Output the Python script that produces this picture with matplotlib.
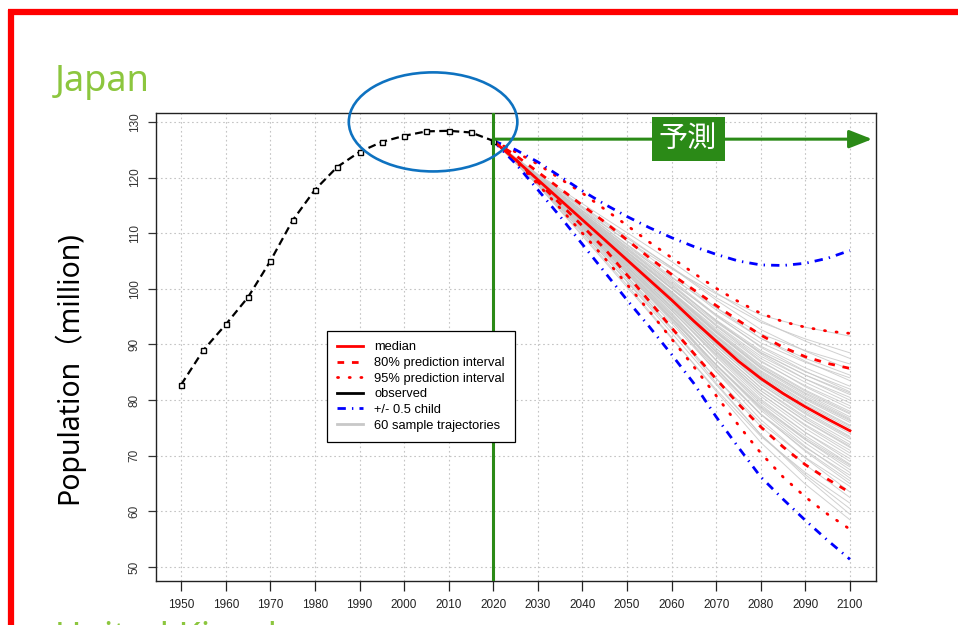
import matplotlib
matplotlib.use("Agg")
import matplotlib.pyplot as plt
from matplotlib.patches import Ellipse
from matplotlib.lines import Line2D

# observed population (million)
obs_years = [1950, 1955, 1960, 1965, 1970, 1975, 1980, 1985, 1990, 1995, 2000, 2005, 2010, 2015, 2020]
obs_pop = [82.8, 89.0, 93.6, 98.5, 105.0, 112.3, 117.8, 121.9, 124.6, 126.4, 127.5, 128.3, 128.4, 128.1, 126.6]

# projections, every 5 years 2020-2100
proj_years = [2020, 2025, 2030, 2035, 2040, 2045, 2050, 2055, 2060, 2065, 2070, 2075, 2080, 2085, 2090, 2095, 2100]
median = [126.6, 123.2, 119.6, 116.0, 112.4, 108.8, 105.2, 101.6, 98.0, 94.2, 90.6, 87.0, 83.9, 81.2, 78.8, 76.6, 74.5]
pi80_hi = [126.6, 124.0, 121.0, 118.0, 115.0, 112.0, 108.8, 105.6, 102.6, 99.8, 97.0, 94.3, 91.7, 89.5, 87.8, 86.6, 85.7]
pi80_lo = [126.6, 123.3, 119.2, 115.3, 111.3, 107.2, 102.5, 97.8, 93.0, 88.4, 83.8, 79.3, 75.2, 71.6, 68.4, 65.8, 63.4]
pi95_hi = [126.6, 124.6, 122.4, 119.8, 117.2, 114.3, 111.4, 108.4, 105.6, 102.8, 100.1, 97.7, 95.6, 94.1, 93.1, 92.4, 92.0]
pi95_lo = [126.6, 123.0, 118.8, 114.5, 110.0, 105.5, 100.8, 96.0, 91.0, 86.0, 80.8, 75.5, 70.5, 66.2, 62.6, 59.5, 56.8]
child_hi = [126.6, 125.0, 122.8, 120.2, 117.6, 115.2, 113.0, 111.0, 109.2, 107.6, 106.2, 105.0, 104.3, 104.2, 104.6, 105.5, 106.9]
child_lo = [126.6, 122.5, 117.8, 113.0, 108.0, 103.0, 98.0, 93.2, 88.2, 83.0, 77.0, 71.5, 66.2, 62.2, 58.4, 54.8, 51.4]

# 60 sample trajectories, values for 2030, 2040, ..., 2100
traj_years = [2020, 2030, 2040, 2050, 2060, 2070, 2080, 2090, 2100]
trajectories = [
    [120.1, 114.1, 108.6, 103.6, 99.1, 95.3, 93.1, 91.5],
    [120.4, 114.6, 109.1, 103.9, 98.4, 94.0, 91.0, 88.5],
    [120.0, 113.6, 107.6, 102.0, 96.6, 91.9, 88.9, 86.5],
    [120.5, 114.8, 109.4, 103.8, 98.0, 92.7, 88.8, 85.5],
    [120.2, 114.0, 108.0, 102.2, 96.2, 91.1, 87.5, 84.5],
    [119.9, 113.4, 107.1, 101.1, 95.4, 90.3, 86.8, 84.0],
    [120.3, 114.4, 108.6, 102.8, 96.6, 91.1, 87.0, 83.5],
    [120.1, 113.7, 107.4, 101.4, 95.1, 89.7, 85.8, 82.5],
    [119.8, 113.2, 106.7, 100.5, 94.4, 88.9, 85.1, 82.0],
    [120.2, 113.9, 107.9, 101.7, 95.3, 89.5, 85.2, 81.5],
    [120.0, 113.4, 107.0, 100.7, 94.2, 88.6, 84.5, 81.0],
    [119.8, 113.0, 106.4, 100.0, 93.6, 87.9, 83.8, 80.5],
    [120.0, 113.6, 107.3, 100.9, 94.3, 88.3, 83.8, 80.0],
    [119.9, 113.2, 106.6, 100.1, 93.4, 87.5, 83.2, 79.5],
    [119.7, 112.9, 106.1, 99.5, 92.9, 86.9, 82.6, 79.0],
    [119.9, 113.3, 106.7, 100.1, 93.3, 87.1, 82.4, 78.5],
    [119.8, 113.0, 106.2, 99.5, 92.6, 86.4, 81.8, 78.0],
    [119.7, 112.7, 105.8, 99.0, 92.1, 85.9, 81.3, 77.5],
    [119.8, 113.0, 106.2, 99.3, 92.3, 85.9, 81.1, 77.0],
    [119.7, 112.7, 105.8, 98.8, 91.7, 85.3, 80.5, 76.5],
    [119.6, 112.6, 105.5, 98.5, 91.4, 84.9, 80.1, 76.0],
    [119.7, 112.6, 105.6, 98.5, 91.3, 84.7, 79.7, 75.5],
    [119.6, 112.5, 105.3, 98.2, 90.9, 84.3, 79.2, 75.0],
    [119.3, 112.0, 105.0, 98.1, 90.9, 84.1, 78.8, 74.5],
    [119.9, 112.8, 105.5, 97.9, 90.2, 83.6, 78.7, 74.5],
    [119.6, 112.3, 105.0, 97.7, 90.3, 83.5, 78.3, 74.0],
    [119.6, 112.3, 105.0, 97.7, 90.1, 83.2, 78.0, 73.5],
    [119.5, 112.2, 104.8, 97.4, 89.8, 82.8, 77.5, 73.0],
    [119.4, 112.0, 104.4, 96.9, 89.3, 82.3, 77.0, 72.5],
    [119.5, 112.1, 104.7, 97.2, 89.3, 82.2, 76.7, 72.0],
    [119.4, 111.9, 104.4, 96.7, 88.9, 81.7, 76.2, 71.5],
    [119.3, 111.6, 103.9, 96.1, 88.3, 81.1, 75.6, 71.0],
    [119.5, 112.0, 104.4, 96.7, 88.6, 81.2, 75.4, 70.5],
    [119.3, 111.7, 103.9, 96.1, 88.1, 80.7, 74.9, 70.0],
    [119.2, 111.3, 103.3, 95.3, 87.2, 79.9, 74.2, 69.5],
    [119.4, 111.8, 104.1, 96.2, 87.8, 80.2, 74.2, 69.0],
    [119.2, 111.4, 103.5, 95.5, 87.2, 79.6, 73.6, 68.5],
    [119.1, 111.0, 102.7, 94.6, 86.2, 78.7, 72.9, 68.0],
    [119.4, 111.7, 103.8, 95.7, 87.1, 79.2, 72.9, 67.5],
    [119.1, 111.2, 103.1, 94.8, 86.4, 78.5, 72.3, 67.0],
    [119.0, 110.6, 102.2, 93.8, 85.2, 77.5, 71.5, 66.5],
    [119.3, 111.5, 103.5, 95.2, 86.3, 78.2, 71.7, 66.0],
    [119.1, 111.0, 102.7, 94.2, 85.6, 77.4, 71.0, 65.5],
    [118.8, 110.2, 101.4, 92.7, 83.9, 75.9, 69.7, 64.5],
    [119.3, 111.3, 103.0, 94.4, 85.1, 76.5, 69.6, 63.5],
    [118.9, 110.5, 101.8, 93.0, 83.9, 75.3, 68.4, 62.5],
    [118.6, 109.5, 100.3, 91.1, 81.9, 73.5, 67.0, 61.5],
    [118.8, 110.2, 101.3, 92.1, 82.8, 73.8, 66.6, 60.5],
    [119.1, 110.9, 102.2, 93.0, 83.1, 73.8, 66.2, 59.5],
    [118.6, 109.8, 100.7, 91.3, 81.6, 72.4, 64.9, 58.5],
    [120.6, 115.3, 110.1, 104.9, 99.3, 94.3, 90.6, 87.5],
    [119.7, 112.6, 105.6, 98.6, 91.5, 85.1, 80.3, 76.3],
    [119.5, 112.1, 104.7, 97.4, 89.8, 82.9, 77.7, 73.3],
    [119.8, 112.9, 106.1, 99.3, 92.4, 86.2, 81.6, 77.7],
    [119.4, 111.8, 104.1, 96.5, 88.7, 81.7, 76.3, 71.7],
    [119.8, 113.1, 106.6, 100.2, 94.0, 88.5, 84.5, 81.3],
    [119.1, 111.0, 102.8, 94.7, 86.4, 78.9, 73.2, 68.3],
    [119.6, 112.5, 105.4, 98.3, 91.0, 84.5, 79.5, 75.3],
    [119.3, 111.4, 103.3, 94.9, 85.8, 77.5, 70.8, 65.0],
    [119.8, 112.9, 106.0, 99.2, 92.1, 85.7, 80.8, 76.7],
]

xticks = list(range(1950, 2101, 10))
yticks = list(range(50, 131, 10))

W, H = 958, 625
fig = plt.figure(figsize=(W / 100, H / 100), dpi=100)
fig.patch.set_facecolor("white")

ax = fig.add_axes([156 / W, 1 - 581 / H, 720 / W, 468 / H])
ax.set_xlim(1944.35, 2105.85)
ax.set_ylim(47.5, 131.6)

narrow = ["Liberation Sans Narrow", "Liberation Sans", "DejaVu Sans"]

# grid
for x in xticks:
    ax.axvline(x, color="#c4c4c4", lw=0.8, dashes=(1.5, 2.5), zorder=0)
for y in yticks:
    ax.axhline(y, color="#c4c4c4", lw=0.8, dashes=(1.5, 2.5), zorder=0)

# sample trajectories
for row in trajectories:
    ax.plot(traj_years, [obs_pop[-1]] + row, color="#c8c8c8", lw=0.7, alpha=0.85, zorder=1)

red = "#ff0000"
blue = "#0000ff"
ax.plot(proj_years, pi95_hi, color=red, lw=2, dashes=(0.4, 3.8), dash_capstyle="round", zorder=3)
ax.plot(proj_years, pi95_lo, color=red, lw=2, dashes=(0.4, 3.8), dash_capstyle="round", zorder=3)
ax.plot(proj_years, pi80_hi, color=red, lw=2, dashes=(2.4, 2.8), zorder=3)
ax.plot(proj_years, pi80_lo, color=red, lw=2, dashes=(2.4, 2.8), zorder=3)
ax.plot(proj_years, child_hi, color=blue, lw=2, dashes=(3.0, 2.2, 0.5, 2.2), zorder=3)
ax.plot(proj_years, child_lo, color=blue, lw=2, dashes=(3.0, 2.2, 0.5, 2.2), zorder=3)
ax.plot(proj_years, median, color=red, lw=2, zorder=4)

# observed
ax.plot(obs_years, obs_pop, color="black", lw=1.6, dashes=(3.5, 2), zorder=5,
        marker="s", ms=3.6, mfc="white", mec="black", mew=1.0)

green = "#2b8a17"
ax.axvline(2020, color=green, lw=2.2, zorder=6)

# forecast arrow and label
ax.annotate("", xy=(2105.0, 126.9), xytext=(2020, 126.9), xycoords="data",
            arrowprops=dict(arrowstyle="-|>,head_length=1.4,head_width=0.55",
                            color=green, lw=2.2, shrinkA=0, shrinkB=0),
            annotation_clip=False, zorder=7)
ax.text(2063.7, 126.9, "予測", color="white", fontsize=21,
        family=["Noto Sans CJK JP", "DejaVu Sans"], ha="center", va="center", zorder=8,
        bbox=dict(boxstyle="square,pad=0.25", fc=green, ec="none"))

ellipse = Ellipse((2006.5, 130.0), 37.8, 17.8, fill=False, ec="#0e72c0", lw=1.9,
                  clip_on=False, zorder=9)
ax.add_patch(ellipse)

ax.set_xticks(xticks)
ax.set_yticks(yticks)
ax.tick_params(axis="x", length=7, width=0.9, pad=6, labelsize=8.5, colors="#222222")
ax.tick_params(axis="y", length=6, width=0.9, pad=5, labelsize=8.5, colors="#333333")
for lab in ax.get_xticklabels():
    lab.set_family(narrow)
for lab in ax.get_yticklabels():
    lab.set_family(narrow)
    lab.set_rotation(90)
    lab.set_va("center")
for sp in ax.spines.values():
    sp.set_color("#222222")
    sp.set_linewidth(1.0)

ax.set_ylabel("Population（million)", fontsize=20.5, family=["Noto Sans", "Noto Sans CJK JP"],
              color="black")
ax.yaxis.set_label_coords(-0.1, 0.457)

handles = [
    Line2D([], [], color=red, lw=2),
    Line2D([], [], color=red, lw=2, dashes=(2.4, 2.8)),
    Line2D([], [], color=red, lw=2, dashes=(0.4, 3.8), dash_capstyle="round"),
    Line2D([], [], color="black", lw=2),
    Line2D([], [], color=blue, lw=2, dashes=(3.0, 2.2, 0.5, 2.2)),
    Line2D([], [], color="#c8c8c8", lw=2),
]
labels = ["median", "80% prediction interval", "95% prediction interval",
          "observed", "+/- 0.5 child", "60 sample trajectories"]
leg = ax.legend(handles, labels, loc="upper left", bbox_to_anchor=(327 / W, 1 - 331 / H),
                bbox_transform=fig.transFigure, borderaxespad=0, fancybox=False,
                framealpha=1, edgecolor="black", borderpad=0.8, labelspacing=0.28,
                handlelength=2.0, handletextpad=0.85,
                prop={"family": "Liberation Sans", "size": 9.3})
leg.get_frame().set_linewidth(0.9)
leg.set_zorder(10)

# slide decorations
fig.text(55 / W, 1 - 91 / H, "Japan", color="#8cc63e", fontsize=26, family="Noto Sans",
         va="baseline", ha="left")
fig.text(55 / W, 1 - 648 / H, "United Kingdom", color="#8cc63e", fontsize=26,
         family="Noto Sans", va="baseline", ha="left")
fig.add_artist(Line2D([8 / W, 1.0], [1 - 12 / H, 1 - 12 / H], color="#ff0000", lw=4.5,
                      solid_capstyle="butt"))
fig.add_artist(Line2D([11 / W, 11 / W], [1 - 10 / H, 0.0], color="#ff0000", lw=4.5,
                      solid_capstyle="butt"))

fig.savefig("out.png", dpi=100)
